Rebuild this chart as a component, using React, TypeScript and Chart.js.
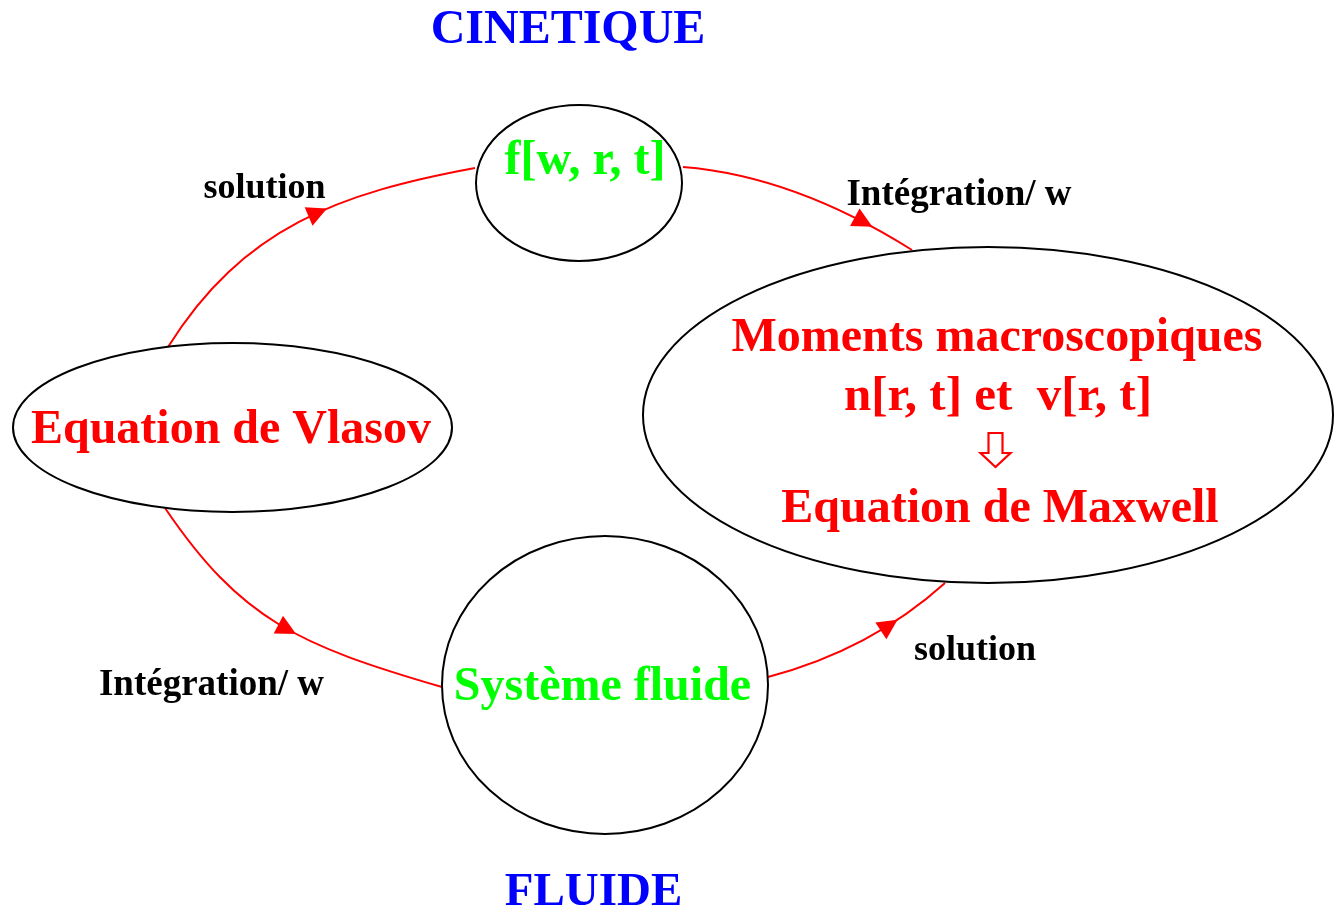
import React, { useEffect, useRef } from 'react';
import { Chart, registerables } from 'chart.js';

Chart.register(...registerables);

// ---- Diagram data (in diagram units, mapped through Chart.js linear scales) ----
const nodeLabels = ['Equation de Vlasov', 'f[w, r, t]', 'Moments macroscopiques', 'Système fluide'];
const nodeCx = [232.5, 579, 988, 605];
const nodeCy = [427.5, 183, 415, 685];
const nodeRx = [219.5, 103, 345, 163];
const nodeRy = [84.5, 78, 168, 149];

// Text lines inside nodes
const nodeTexts = ['Equation de Vlasov', 'f[w, r, t]', 'Moments macroscopiques', 'n[r, t] et  v[r, t]', 'Equation de Maxwell', 'Système fluide'];
const nodeTextX = [231, 585, 997, 998, 1000, 602.5];
const nodeTextY = [443, 174, 351, 410, 522, 700];
const nodeTextSize = [48, 48, 48, 49, 48, 48];
const nodeTextColor = ['#ff0000', '#00ff00', '#ff0000', '#ff0000', '#ff0000', '#00ff00'];

// Curved transitions (cubic Bezier control points)
const arcP0 = [[168, 347], [683, 167], [165, 508], [768, 677]];
const arcC1 = [[243, 227], [758, 173], [241, 620], [836, 659]];
const arcC2 = [[340, 193], [834, 201], [298, 645], [895, 628]];
const arcP3 = [[475, 168], [912, 250], [442, 687], [945, 583]];
const arrowT = [0.59, 0.83, 0.57, 0.7];

// Edge labels
const edgeLabels = ['solution', 'Intégration/ w', 'Intégration/ w', 'solution'];
const edgeLabelX = [264.5, 959, 211.5, 975];
const edgeLabelY = [198, 205, 695, 660];
const edgeLabelSize = [36, 37, 37, 36];

// Titles
const titleLabels = ['CINETIQUE', 'FLUIDE'];
const titleX = [568, 593.5];
const titleY = [43, 905];
const titleSize = [48, 47];

// Implication arrow (hollow) inside the Maxwell ellipse
const implX = [995.5];
const implTop = [433];
const implNeck = [453];
const implTip = [467];

const W = 1341;
const H = 912;
const FONT = '"Liberation Serif", "Times New Roman", Times, serif';

function bez(p0: number, p1: number, p2: number, p3: number, t: number) {
  const u = 1 - t;
  return u * u * u * p0 + 3 * u * u * t * p1 + 3 * u * t * t * p2 + t * t * t * p3;
}
function bezD(p0: number, p1: number, p2: number, p3: number, t: number) {
  const u = 1 - t;
  return 3 * u * u * (p1 - p0) + 6 * u * t * (p2 - p1) + 3 * t * t * (p3 - p2);
}

const diagramPlugin = {
  id: 'diagram',
  afterDraw(chart: any) {
    const { ctx } = chart;
    const xs = chart.scales.x;
    const ys = chart.scales.y;
    const px = (v: number) => xs.getPixelForValue(v);
    const py = (v: number) => ys.getPixelForValue(v);

    ctx.save();

    // Arcs
    ctx.strokeStyle = '#ff0000';
    ctx.fillStyle = '#ff0000';
    ctx.lineWidth = 2;
    for (let i = 0; i < arcP0.length; i++) {
      const a = arcP0[i], b = arcC1[i], c = arcC2[i], d = arcP3[i];
      ctx.beginPath();
      ctx.moveTo(px(a[0]), py(a[1]));
      ctx.bezierCurveTo(px(b[0]), py(b[1]), px(c[0]), py(c[1]), px(d[0]), py(d[1]));
      ctx.stroke();

      const t = arrowT[i];
      const vx = bez(a[0], b[0], c[0], d[0], t);
      const vy = bez(a[1], b[1], c[1], d[1], t);
      const tx = px(vx);
      const ty = py(vy);
      const dx0 = px(vx + bezD(a[0], b[0], c[0], d[0], t)) - tx;
      const dy0 = py(vy + bezD(a[1], b[1], c[1], d[1], t)) - ty;
      const len = Math.hypot(dx0, dy0) || 1;
      const ux = dx0 / len, uy = dy0 / len;
      const nx = -uy, ny = ux;
      const L = 20, hw = 10;
      const bx = tx - ux * L, by = ty - uy * L;
      ctx.beginPath();
      ctx.moveTo(tx, ty);
      ctx.lineTo(bx + nx * hw, by + ny * hw);
      ctx.lineTo(bx - nx * hw, by - ny * hw);
      ctx.closePath();
      ctx.fill();
    }

    // Nodes (ellipses)
    ctx.strokeStyle = '#000000';
    ctx.lineWidth = 2;
    for (let i = 0; i < nodeLabels.length; i++) {
      const cx = px(nodeCx[i]);
      const cy = py(nodeCy[i]);
      const rx = Math.abs(px(nodeCx[i] + nodeRx[i]) - cx);
      const ry = Math.abs(py(nodeCy[i] + nodeRy[i]) - cy);
      ctx.beginPath();
      ctx.ellipse(cx, cy, rx, ry, 0, 0, Math.PI * 2);
      ctx.stroke();
    }

    // Node texts
    ctx.textAlign = 'center';
    ctx.textBaseline = 'alphabetic';
    for (let i = 0; i < nodeTexts.length; i++) {
      ctx.font = `bold ${nodeTextSize[i]}px ${FONT}`;
      ctx.fillStyle = nodeTextColor[i];
      ctx.fillText(nodeTexts[i], px(nodeTextX[i]), py(nodeTextY[i]));
    }

    // Hollow implication arrow
    for (let i = 0; i < implX.length; i++) {
      const cx = px(implX[i]);
      const top = py(implTop[i]);
      const neck = py(implNeck[i]);
      const tip = py(implTip[i]);
      const sw = Math.abs(px(implX[i] + 7) - cx);
      const hw = Math.abs(px(implX[i] + 15) - cx);
      ctx.beginPath();
      ctx.moveTo(cx - sw, top);
      ctx.lineTo(cx + sw, top);
      ctx.lineTo(cx + sw, neck);
      ctx.lineTo(cx + hw, neck);
      ctx.lineTo(cx, tip);
      ctx.lineTo(cx - hw, neck);
      ctx.lineTo(cx - sw, neck);
      ctx.closePath();
      ctx.fillStyle = '#ffffff';
      ctx.fill();
      ctx.strokeStyle = '#ff0000';
      ctx.lineWidth = 2.2;
      ctx.lineJoin = 'miter';
      ctx.stroke();
    }

    // Edge labels
    ctx.fillStyle = '#000000';
    for (let i = 0; i < edgeLabels.length; i++) {
      ctx.font = `bold ${edgeLabelSize[i]}px ${FONT}`;
      ctx.fillText(edgeLabels[i], px(edgeLabelX[i]), py(edgeLabelY[i]));
    }

    // Titles
    ctx.fillStyle = '#0000ff';
    for (let i = 0; i < titleLabels.length; i++) {
      ctx.font = `bold ${titleSize[i]}px ${FONT}`;
      ctx.fillText(titleLabels[i], px(titleX[i]), py(titleY[i]));
    }

    ctx.restore();
  },
};

export default function App() {
  const canvasRef = useRef<HTMLCanvasElement | null>(null);

  useEffect(() => {
    document.body.style.margin = '0';
    document.body.style.background = '#ffffff';
    const canvas = canvasRef.current;
    if (!canvas) return;
    const chart = new Chart(canvas, {
      type: 'scatter',
      data: {
        datasets: [
          {
            label: 'nodes',
            data: nodeCx.map((x, i) => ({ x, y: nodeCy[i] })),
            pointRadius: 0,
            showLine: false,
          },
        ],
      },
      options: {
        responsive: false,
        animation: false,
        devicePixelRatio: 1,
        layout: { padding: 0 },
        events: [],
        plugins: {
          legend: { display: false },
          tooltip: { enabled: false },
          title: { display: false },
        },
        scales: {
          x: { type: 'linear', min: 0, max: W, display: false },
          y: { type: 'linear', min: 0, max: H, reverse: true, display: false },
        },
      },
      plugins: [diagramPlugin],
    });
    return () => chart.destroy();
  }, []);

  return (
    <div style={{ position: 'absolute', left: 0, top: 0, width: W, height: H, background: '#ffffff' }}>
      <canvas ref={canvasRef} width={W} height={H} style={{ display: 'block', width: W, height: H }} />
    </div>
  );
}
